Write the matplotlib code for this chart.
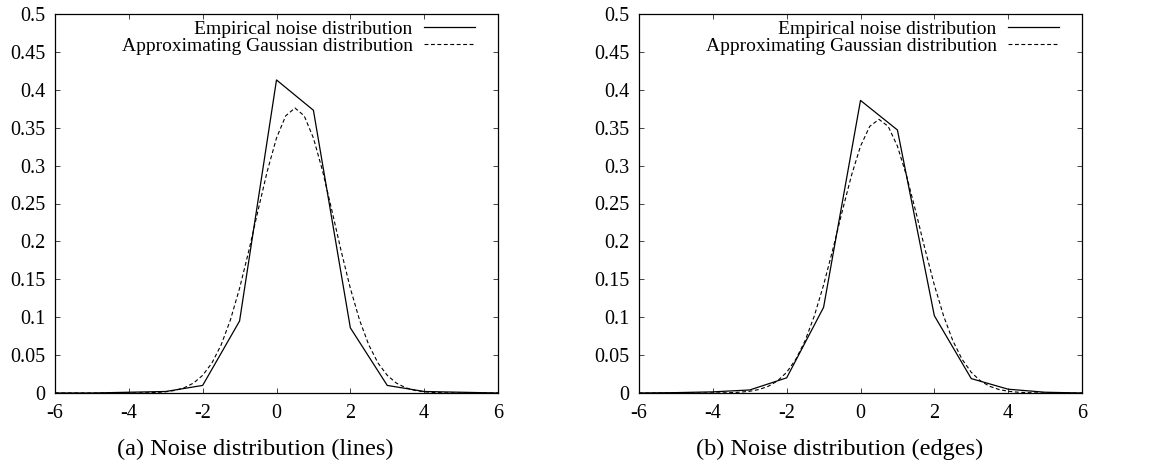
import numpy as np
import matplotlib
matplotlib.use('Agg')
import matplotlib.pyplot as plt
from matplotlib.ticker import FuncFormatter

plt.rcParams['font.family'] = ['Liberation Serif', 'DejaVu Serif']
plt.rcParams['axes.unicode_minus'] = False

# empirical noise distribution, sampled at integer offsets
emp_x = [-6, -5, -4, -3, -2, -1, 0, 1, 2, 3, 4, 5, 6]
emp_lines = [0.0, 0.0, 0.001, 0.002, 0.010, 0.095, 0.413, 0.373, 0.086, 0.010, 0.002, 0.001, 0.0]
emp_edges = [0.0, 0.0005, 0.0015, 0.004, 0.020, 0.113, 0.386, 0.347, 0.102, 0.019, 0.005, 0.001, 0.0]

# approximating gaussian curves, read every 0.25 from -6 to 6
gauss_x = np.arange(-6, 6.25, 0.25)
gauss_lines = [0.0, 0.0, 0.0, 0.0, 0.0, 0.0, 0.0, 0.0, 0.0,
               0.0001, 0.0003, 0.0007, 0.0016, 0.0034, 0.0069, 0.0130, 0.0233, 0.0395, 0.0634,
               0.0962, 0.1382, 0.1876, 0.2409, 0.2927, 0.3364, 0.3657, 0.376, 0.3657, 0.3364,
               0.2927, 0.2409, 0.1876, 0.1382, 0.0962, 0.0634, 0.0395, 0.0233, 0.0130, 0.0069,
               0.0034, 0.0016, 0.0007, 0.0003, 0.0001, 0.0, 0.0, 0.0, 0.0, 0.0]
gauss_edges = [0.0, 0.0, 0.0, 0.0, 0.0, 0.0, 0.0, 0.0,
               0.0001, 0.0002, 0.0005, 0.0011, 0.0023, 0.0046, 0.0088, 0.0159, 0.0273, 0.0446,
               0.0691, 0.1018, 0.1425, 0.1893, 0.2388, 0.2861, 0.3256, 0.3518, 0.361, 0.3518,
               0.3256, 0.2861, 0.2388, 0.1893, 0.1425, 0.1018, 0.0691, 0.0446, 0.0273, 0.0159,
               0.0088, 0.0046, 0.0023, 0.0011, 0.0005, 0.0002, 0.0001, 0.0, 0.0, 0.0, 0.0]

x_ticks = [-6, -4, -2, 0, 2, 4, 6]
y_ticks = np.arange(0, 0.51, 0.05)
captions = ['(a) Noise distribution (lines)', '(b) Noise distribution (edges)']
labels = ['Empirical noise distribution', 'Approximating Gaussian distribution']

W, H = 1150, 466
fig = plt.figure(figsize=(W / 100, H / 100), dpi=100)

panels = [(emp_lines, gauss_lines), (emp_edges, gauss_edges)]
ax_left = [55, 639]
cap_x = [255, 840]

for i in range(2):
    ax = fig.add_axes([ax_left[i] / W, (H - 393) / H, 443 / W, 379 / H])
    emp, gauss = panels[i]
    l1, = ax.plot(emp_x, emp, color='black', lw=0.9)
    l2, = ax.plot(gauss_x, gauss, color='black', lw=0.8, linestyle=(0, (3.5, 2.3)))
    ax.set_xlim(-6, 6)
    ax.set_ylim(0, 0.5)
    ax.set_xticks(x_ticks)
    ax.set_yticks(y_ticks)
    ax.yaxis.set_major_formatter(FuncFormatter(lambda v, p: '%g' % round(v, 2)))
    ax.tick_params(direction='in', top=True, right=True, length=3.6, width=0.7,
                   labelsize=14.5, color='#444444')
    ax.tick_params(axis='x', pad=8)
    ax.tick_params(axis='y', pad=7)
    for s in ax.spines.values():
        s.set_linewidth(0.9)
    ax.legend([l1, l2], labels, loc='upper right', bbox_to_anchor=(0.948, 0.984),
              frameon=False, markerfirst=False, fontsize=14, borderpad=0,
              borderaxespad=0, handlelength=2.6, handletextpad=0.6, labelspacing=0.0)
    fig.text(cap_x[i] / W, (H - 455) / H, captions[i], ha='center', va='baseline', fontsize=17.5)

fig.savefig('out.png', dpi=100)
